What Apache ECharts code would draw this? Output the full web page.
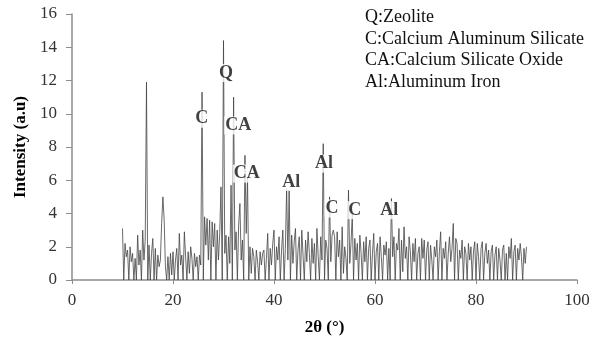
<!DOCTYPE html>
<html>
<head>
<meta charset="utf-8">
<script src="https://cdn.jsdelivr.net/npm/echarts@6/dist/echarts.min.js"></script>
<style>
  html, body { margin: 0; padding: 0; background: #fff; }
  #chart { width: 606px; height: 343px; }
</style>
</head>
<body>
<div id="chart"></div>
<script>
// 2θ grid of the scan: first angle and step (degrees)
const START_ANGLE = 10;
const STEP = 0.25;

// intensity, 4 values per degree from 10° to 90°
const INTENSITY = [
  3.1, 0.0, 2.2, 1.4,   1.8, 0.0, 2.0, 1.1,   1.6, 0.0, 1.3, 0.0,   2.7, 0.9, 1.8, 0.0,
  3.0, 1.2, 2.4, 11.9,  0.0, 2.1, 0.0, 1.6,   2.5, 0.0, 1.9, 0.0,   1.5, 0.8, 1.2, 3.4,
  5.0, 3.6, 0.8, 0.0,   1.4, 0.0, 1.6, 0.3,   1.7, 0.0, 1.2, 1.9,   0.0, 2.8, 0.9, 1.5,
  0.0, 2.9, 1.4, 0.0,   1.7, 0.4, 2.0, 1.3,   0.0, 1.6, 0.8, 1.4,   0.0, 1.5, 0.9, 11.3,
  0.0, 3.8, 2.1, 3.7,   1.2, 3.6, 0.0, 3.5,   2.0, 3.4, 0.0, 3.0,   1.2, 2.8, 5.6, 0.0,
  14.4, 1.6, 2.7, 0.0,  2.6, 1.0, 5.7, 0.0,   11.0, 1.8, 2.9, 0.0,  3.3, 4.6, 1.2, 2.4,
  0.0, 7.5, 2.8, 6.2,   0.0, 2.0, 0.4, 1.9,   1.4, 0.0, 1.8, 1.1,   0.0, 1.7, 0.9, 1.6,
  1.8, 0.0, 1.3, 2.8,   0.0, 1.9, 0.9, 2.2,   3.0, 0.0, 2.0, 1.2,   2.6, 0.0, 1.8, 3.0,
  0.0, 1.9, 5.5, 1.2,   5.4, 0.0, 2.7, 1.0,   2.3, 3.1, 0.0, 1.8,   2.6, 0.0, 3.0, 1.5,
  0.0, 2.4, 1.1, 2.9,   1.6, 0.0, 2.5, 1.0,   2.2, 0.0, 3.1, 1.4,   0.0, 2.6, 1.2, 8.2,
  0.0, 2.4, 1.9, 0.0,   5.0, 1.1, 2.7, 3.0,   2.6, 0.0, 2.9, 1.4,   2.4, 0.0, 3.2, 0.4,
  2.0, 1.3, 0.0, 5.4,   1.0, 2.2, 4.0, 0.0,   2.5, 1.2, 2.2, 0.0,   2.7, 1.6, 0.0, 2.3,
  1.1, 2.6, 0.0, 1.9,   2.4, 0.0, 1.6, 2.8,   0.0, 1.7, 2.2, 0.0,   2.6, 1.4, 0.0, 2.1,
  1.5, 2.3, 0.0, 1.9,   0.0, 4.9, 1.4, 2.6,   0.0, 2.2, 1.8, 3.1,   0.0, 2.4, 0.5, 3.2,
  1.3, 2.0, 0.0, 2.6,   1.7, 0.0, 2.2, 1.1,   2.5, 0.0, 1.6, 2.0,   0.0, 2.5, 1.3, 2.4,
  0.0, 1.8, 2.3, 0.0,   2.1, 1.2, 0.0, 2.0,   1.4, 2.4, 0.0, 1.7,   2.9, 0.0, 1.9, 1.3,
  2.3, 0.0, 1.6, 2.6,   1.1, 1.9, 3.4, 0.0,   2.5, 2.2, 0.0, 1.8,   1.3, 2.4, 0.0, 2.0,
  1.6, 0.0, 2.2, 1.2,   2.0, 0.0, 1.7, 2.3,   0.0, 2.2, 1.4, 0.0,   1.9, 2.3, 0.0, 1.6,
  2.2, 1.0, 1.8, 0.0,   1.7, 2.1, 0.0, 1.5,   2.0, 0.0, 1.9, 1.2,   0.0, 1.8, 2.1, 0.0,
  1.6, 0.0, 2.0, 1.3,   2.5, 0.0, 1.7, 2.1,   0.0, 1.9, 1.2, 2.2,   1.4, 0.0, 1.9, 1.0,
  2.0
];

// phase labels: [2θ, intensity, text]
const PHASE_LABELS = [
  [30.5, 12.45, "Q"],
  [25.7, 9.7, "C"],
  [32.9, 9.3, "CA"],
  [34.6, 6.4, "CA"],
  [43.4, 5.9, "Al"],
  [49.9, 7.0, "Al"],
  [51.5, 4.3, "C"],
  [56.0, 4.2, "C"],
  [62.8, 4.2, "Al"],
];

const LEGEND_LINES = [
  "Q:Zeolite",
  "C:Calcium Aluminum Silicate",
  "CA:Calcium Silicate Oxide",
  "Al:Aluminum Iron",
];

const SERIF = "'Liberation Serif', 'DejaVu Serif', serif";
const AXIS_COLOR = "#8c8c8c";

const points = INTENSITY.map((v, i) => [START_ANGLE + i * STEP, v]);

const chart = echarts.init(document.getElementById("chart"), null, { renderer: "canvas" });
chart.setOption({
  animation: false,
  backgroundColor: "#fff",
  textStyle: { fontFamily: SERIF },
  grid: { left: 72, right: 29, top: 14, bottom: 63 },
  xAxis: {
    type: "value",
    min: 0,
    max: 100,
    interval: 20,
    name: "2θ (°)",
    nameLocation: "middle",
    nameGap: 39,
    nameTextStyle: { fontFamily: SERIF, fontSize: 17, fontWeight: "bold", color: "#000" },
    axisLine: { lineStyle: { color: AXIS_COLOR, width: 1.5 } },
    axisTick: { show: true, length: 4, lineStyle: { color: AXIS_COLOR } },
    axisLabel: { fontFamily: SERIF, fontSize: 17, color: "#333", margin: 12 },
    splitLine: { show: false },
  },
  yAxis: {
    type: "value",
    min: 0,
    max: 16,
    interval: 2,
    name: "Intensity (a.u)",
    nameLocation: "middle",
    nameGap: 41,
    nameTextStyle: { fontFamily: SERIF, fontSize: 17, fontWeight: "bold", color: "#000" },
    axisLine: { show: true, lineStyle: { color: AXIS_COLOR, width: 1.5 } },
    axisTick: { show: true, length: 6, lineStyle: { color: AXIS_COLOR } },
    axisLabel: { fontFamily: SERIF, fontSize: 17, color: "#333", margin: 15 },
    splitLine: { show: false },
  },
  series: [
    {
      type: "line",
      data: points,
      symbol: "none",
      lineStyle: { color: "#444", width: 0.8 },
      z: 2,
    },
    {
      type: "scatter",
      data: PHASE_LABELS,
      symbolSize: 0,
      z: 5,
      label: {
        show: true,
        position: "inside",
        formatter: (p) => p.value[2],
        fontFamily: SERIF,
        fontSize: 18,
        fontWeight: "bold",
        color: "#111",
        backgroundColor: "#fff",
        padding: [0, 1],
      },
    },
  ],
  graphic: [
    {
      type: "text",
      left: 365,
      top: 7,
      style: {
        text: LEGEND_LINES.join("\n"),
        font: "18px " + SERIF,
        lineHeight: 21.5,
        fill: "#111",
      },
    },
  ],
});
</script>
</body>
</html>
